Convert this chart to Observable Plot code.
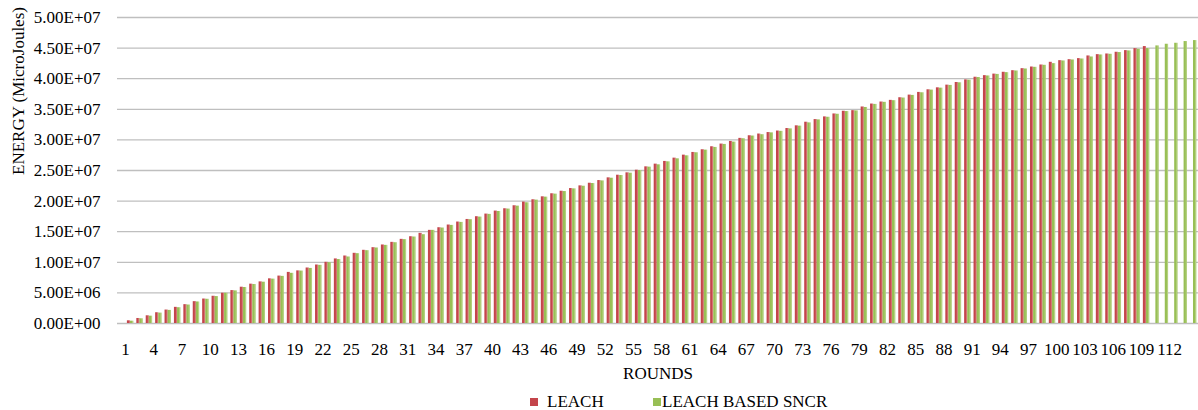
<!DOCTYPE html>
<html><head><meta charset="utf-8">
<script src="https://cdn.jsdelivr.net/npm/d3@7"></script>
<script src="https://cdn.jsdelivr.net/npm/@observablehq/plot@0.6"></script>
<style>
body{margin:0;background:#fff;font-family:"Liberation Serif","Times New Roman",serif;}
#wrap{width:1198px;}
#legend{position:relative;height:25px;width:1198px;font-size:17px;color:#000;}
.sw{position:absolute;width:8px;height:8px;top:13px;}
.lt{position:absolute;top:8px;line-height:17px;white-space:nowrap;}
</style></head><body><div id="wrap"></div>
<script>
const rounds = d3.range(1, 115);
// Energy in millions of microjoules
const leach = [0.44,0.82,1.26,1.76,2.20,2.64,3.08,3.57,4.00,4.45,4.95,5.38,5.93,6.43,6.80,7.30,7.75,8.35,8.60,9.07,
9.56,10.00,10.55,11.03,11.47,11.96,12.39,12.83,13.26,13.75,14.18,14.73,15.22,15.65,16.09,16.58,17.00,17.45,17.88,18.37,
18.75,19.24,19.84,20.22,20.70,21.20,21.61,22.05,22.49,22.92,23.36,23.80,24.23,24.62,25.05,25.60,26.04,26.48,27.02,27.51,
27.95,28.39,28.88,29.32,29.75,30.25,30.68,30.96,31.20,31.45,31.86,32.30,32.89,33.32,33.76,34.24,34.68,34.78,35.38,35.86,
36.19,36.46,36.89,37.32,37.76,38.19,38.51,38.95,39.38,39.81,40.24,40.50,40.75,41.05,41.31,41.64,41.91,42.24,42.68,42.95,
43.11,43.28,43.72,43.93,44.04,44.32,44.59,44.92,45.25];
const sncr = [0.38,0.77,1.20,1.70,2.14,2.58,3.02,3.52,3.96,4.40,4.95,5.33,5.88,6.37,6.75,7.25,7.70,8.20,8.57,9.00,
9.50,9.95,10.45,10.87,11.41,11.90,12.34,12.77,13.20,13.70,14.13,14.51,15.22,15.60,16.03,16.52,16.96,17.39,17.83,18.30,
18.70,19.18,19.73,20.16,20.65,21.14,21.56,22.00,22.43,22.87,23.30,23.74,24.18,24.56,25.00,25.55,25.93,26.42,26.91,27.40,
27.90,28.33,28.77,29.26,29.64,30.19,30.63,30.85,31.15,31.40,31.80,32.25,32.78,33.27,33.70,34.19,34.63,34.74,35.30,35.80,
36.14,36.41,36.84,37.27,37.70,38.14,38.46,38.90,39.33,39.76,40.19,40.45,40.70,40.99,41.26,41.59,41.86,42.19,42.46,42.90,
43.06,43.22,43.55,43.88,43.99,44.27,44.54,44.81,44.92,45.36,45.63,45.79,46.07,46.23];
const xTickRounds = [1,4,7,10,13,16,19,22,25,28,31,34,37,40,43,46,49,52,55,58,61,64,67,70,73,76,79,82,85,88,91,94,97,100,103,106,109,112];
const yTicks = [0,5,10,15,20,25,30,35,40,45,50];
const yTickLabels = ["0.00E+00","5.00E+06","1.00E+07","1.50E+07","2.00E+07","2.50E+07","3.00E+07","3.50E+07","4.00E+07","4.50E+07","5.00E+07"];
const seriesNames = ["LEACH","LEACH BASED SNCR"];
const seriesColors = ["#c4454b","#98bf55"];
const seriesLight = ["#d9797b","#b9d486"];

const leachData = leach.map((v, i) => ({round: rounds[i], v}));
const sncrData = sncr.map((v, i) => ({round: rounds[i], v}));

const svg = Plot.plot({
  width: 1198,
  height: 385,
  marginLeft: 117,
  marginRight: 0,
  marginTop: 17,
  marginBottom: 62,
  style: {fontFamily: '"Liberation Serif","Times New Roman",serif', fontSize: "17px", color: "#000", background: "#fff", overflow: "visible"},
  x: {type: "band", domain: rounds, range: [125.3, 1197.7], padding: 0},
  y: {domain: [0, 50]},
  marks: [
    Plot.ruleY(yTicks, {stroke: "#bfbfbf", strokeWidth: 1.3}),
    Plot.barY(leachData, {x: "round", y: "v", fill: "url(#gLeach)", insetLeft: 1.6, insetRight: 4.7}),
    Plot.barY(sncrData, {x: "round", y: "v", fill: "url(#gSncr)", insetLeft: 4.7, insetRight: 1.4}),
    Plot.axisY({ticks: yTicks, tickSize: 0, tickPadding: 17, tickFormat: d => yTickLabels[yTicks.indexOf(d)], label: null}),
    Plot.axisX({ticks: xTickRounds, tickSize: 0, tickPadding: 19, dx: -5, tickFormat: d => String(d), label: null}),
    Plot.text(["ROUNDS"], {text: d => d, frameAnchor: "bottom", dy: 55, fill: "#000"}),
    Plot.text(["ENERGY (MicroJoules)"], {text: d => d, frameAnchor: "left", dx: -99, dy: 4.5, rotate: -90, fill: "#000"})
  ]
});

const defs = d3.select(svg).insert("defs", ":first-child");
[["gLeach", 0], ["gSncr", 1]].forEach(([id, k]) => {
  const g = defs.append("linearGradient").attr("id", id).attr("x1", "0").attr("x2", "1").attr("y1", "0").attr("y2", "0");
  g.append("stop").attr("offset", "0%").attr("stop-color", seriesColors[k]);
  g.append("stop").attr("offset", "50%").attr("stop-color", seriesColors[k]);
  g.append("stop").attr("offset", "80%").attr("stop-color", seriesLight[k]);
  g.append("stop").attr("offset", "100%").attr("stop-color", seriesColors[k]);
});

const wrap = document.getElementById("wrap");
wrap.appendChild(svg);

const legend = document.createElement("div");
legend.id = "legend";
const legendPos = [[530, 547], [653, 662]];
seriesNames.forEach((name, i) => {
  const sw = document.createElement("div");
  sw.className = "sw";
  sw.style.left = legendPos[i][0] + "px";
  sw.style.background = seriesColors[i];
  const t = document.createElement("div");
  t.className = "lt";
  t.style.left = legendPos[i][1] + "px";
  t.textContent = name;
  legend.appendChild(sw);
  legend.appendChild(t);
});
wrap.appendChild(legend);
</script>
</body></html>
